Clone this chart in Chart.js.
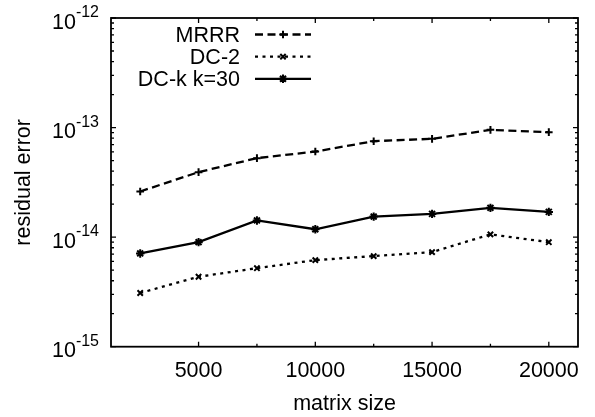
<!DOCTYPE html>
<html><head><meta charset="utf-8">
<script src="https://cdn.jsdelivr.net/npm/chart.js@4/dist/chart.umd.min.js"></script>
<style>html,body{margin:0;padding:0;background:#fff}#wrap{width:595px;height:417px}</style>
</head><body><div id="wrap"><canvas id="c" width="595" height="417"></canvas></div>
<script>
const matrixSizes = [2500, 5000, 7500, 10000, 12500, 15000, 17500, 20000];
const mrrr = [2.61e-14, 3.92e-14, 5.26e-14, 6.04e-14, 7.51e-14, 7.89e-14, 9.53e-14, 9.08e-14];
const dc2  = [3.09e-15, 4.35e-15, 5.21e-15, 6.17e-15, 6.71e-15, 7.30e-15, 1.06e-14, 9.00e-15];
const dck  = [7.10e-15, 9.00e-15, 1.42e-14, 1.18e-14, 1.54e-14, 1.63e-14, 1.85e-14, 1.70e-14];
const seriesNames = ['MRRR', 'DC-2', 'DC-k k=30'];
const xTickLabels = [5000, 10000, 15000, 20000];
const xMinorTicks = [7500, 12500, 17500];
const yTickExponents = [-15, -14, -13, -12];
const xTitle = 'matrix size';
const yTitle = 'residual error';

const FONT = '"Liberation Sans", Arial, Helvetica, sans-serif';
const FS = '21.5px ';

function pts(vals){ return matrixSizes.map((x,i)=>({x:x, y:vals[i]})); }

const styles = [
  {dash:[8,4.5], point:'cross', r:3.8},
  {dash:[3,4.5], point:'crossRot', r:3.8},
  {dash:[], point:'star', r:4.2}
];
const seriesVals = [mrrr, dc2, dck];

const datasets = seriesVals.map((v,i)=>({
  label: seriesNames[i],
  data: pts(v),
  borderColor:'#000', backgroundColor:'#000',
  borderWidth:2.3, borderDash: styles[i].dash,
  pointStyle: styles[i].point, pointRadius: styles[i].r,
  pointBorderColor:'#000', pointBorderWidth:2,
  pointBackgroundColor:'#000',
  tension:0, fill:false
}));

function marker(ctx, style, x, y, r){
  ctx.save();
  ctx.setLineDash([]);
  ctx.lineWidth = 2;
  ctx.strokeStyle = '#000';
  ctx.beginPath();
  if(style==='cross' || style==='star'){
    ctx.moveTo(x-r,y); ctx.lineTo(x+r,y);
    ctx.moveTo(x,y-r); ctx.lineTo(x,y+r);
  }
  if(style==='crossRot' || style==='star'){
    const d = r*0.7071;
    ctx.moveTo(x-d,y-d); ctx.lineTo(x+d,y+d);
    ctx.moveTo(x-d,y+d); ctx.lineTo(x+d,y-d);
  }
  ctx.stroke();
  ctx.restore();
}

const decorPlugin = {
  id:'decor',
  afterDraw(chart){
    const ctx = chart.ctx;
    const a = chart.chartArea;
    const xs = chart.scales.x, ys = chart.scales.y;
    ctx.save();
    ctx.strokeStyle = '#000';
    ctx.fillStyle = '#000';
    ctx.setLineDash([]);
    ctx.lineWidth = 1.8;
    ctx.strokeRect(a.left, a.top, a.right-a.left, a.bottom-a.top);
    ctx.lineWidth = 1.3;
    ctx.beginPath();
    yTickExponents.forEach((e,idx)=>{
      const py = ys.getPixelForValue(Math.pow(10,e));
      ctx.moveTo(a.left, py); ctx.lineTo(a.left+5, py);
      ctx.moveTo(a.right, py); ctx.lineTo(a.right-5, py);
      if(idx < yTickExponents.length-1){
        for(let m=2;m<=9;m++){
          const my = ys.getPixelForValue(m*Math.pow(10,e));
          ctx.moveTo(a.left, my); ctx.lineTo(a.left+3, my);
          ctx.moveTo(a.right, my); ctx.lineTo(a.right-3, my);
        }
      }
    });
    xTickLabels.forEach(v=>{
      const px = xs.getPixelForValue(v);
      ctx.moveTo(px, a.bottom); ctx.lineTo(px, a.bottom-5);
      ctx.moveTo(px, a.top); ctx.lineTo(px, a.top+5);
    });
    xMinorTicks.forEach(v=>{
      const px = xs.getPixelForValue(v);
      ctx.moveTo(px, a.bottom); ctx.lineTo(px, a.bottom-3);
      ctx.moveTo(px, a.top); ctx.lineTo(px, a.top+3);
    });
    ctx.stroke();

    ctx.font = FS + FONT;
    ctx.textAlign = 'center';
    ctx.textBaseline = 'alphabetic';
    xTickLabels.forEach(v=>{
      ctx.fillText(String(v), xs.getPixelForValue(v), a.bottom + 30);
    });
    yTickExponents.forEach(e=>{
      const py = ys.getPixelForValue(Math.pow(10,e));
      const sup = '-' + String(Math.abs(e));
      ctx.font = '16px ' + FONT;
      const sw = ctx.measureText(sup).width;
      ctx.textAlign = 'right';
      const rightX = 99;
      ctx.fillText(sup, rightX, py - 1);
      ctx.font = FS + FONT;
      ctx.fillText('10', rightX - sw, py + 10.6);
    });
    ctx.font = FS + FONT;
    ctx.textAlign = 'center';
    ctx.fillText(xTitle, (a.left+a.right)/2, 410);
    ctx.save();
    ctx.translate(29.5, (a.top+a.bottom)/2);
    ctx.rotate(-Math.PI/2);
    ctx.fillText(yTitle, 0, 0);
    ctx.restore();

    const rowsY = [34.5, 56.7, 78.8];
    seriesNames.forEach((name,i)=>{
      const ly = rowsY[i];
      ctx.font = FS + FONT;
      ctx.textAlign = 'right';
      ctx.fillStyle = '#000';
      ctx.fillText(name, 240, ly + 7.3);
      ctx.save();
      ctx.lineWidth = 2.3;
      ctx.setLineDash(styles[i].dash);
      ctx.beginPath();
      ctx.moveTo(255, ly); ctx.lineTo(311, ly);
      ctx.stroke();
      ctx.restore();
      marker(ctx, styles[i].point, 283, ly, styles[i].r);
    });
    ctx.restore();
  }
};

new Chart(document.getElementById('c'), {
  type:'line',
  data:{datasets: datasets},
  options:{
    responsive:false, animation:false, devicePixelRatio:1,
    layout:{padding:{top:18, right:17, left:0, bottom:0}},
    plugins:{legend:{display:false}, tooltip:{enabled:false}},
    scales:{
      x:{type:'linear', min:1250, max:21250,
         ticks:{display:false}, grid:{display:false}, border:{display:false},
         afterFit(s){ s.height = 70.3; }},
      y:{type:'logarithmic', min:1e-15, max:1e-12,
         ticks:{display:false}, grid:{display:false}, border:{display:false},
         afterFit(s){ s.width = 111; }}
    }
  },
  plugins:[decorPlugin]
});
</script>
</body></html>
